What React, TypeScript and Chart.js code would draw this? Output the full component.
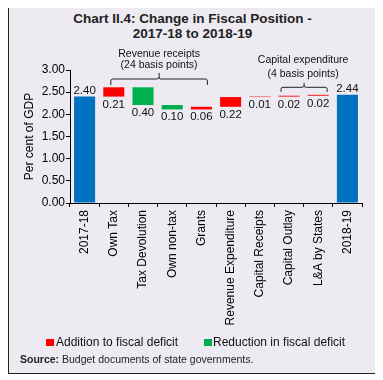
import React, { useEffect, useRef } from "react";
import { Chart, registerables } from "chart.js";

Chart.register(...registerables);

const categories = [
  "2017-18",
  "Own Tax",
  "Tax Devolution",
  "Own non-tax",
  "Grants",
  "Revenue Expenditure",
  "Capital Receipts",
  "Capital Outlay",
  "L&A by States",
  "2018-19",
];
const changes = [2.4, 0.21, -0.4, -0.1, 0.06, 0.22, 0.01, 0.02, 0.02, 2.44];
const isTotal = [true, false, false, false, false, false, false, false, false, true];
const yTickValues = [0, 0.5, 1, 1.5, 2, 2.5, 3];
const legendLabels = ["Addition to fiscal deficit", "Reduction in fiscal deficit"];
const bracketGroups = [
  { lines: ["Revenue receipts", "(24 basis points)"], from: 1, to: 4 },
  { lines: ["Capital expenditure", "(4 basis points)"], from: 7, to: 8 },
];
const titleLines = ["Chart II.4: Change in Fiscal Position -", "2017-18 to 2018-19"];
const sourceLabel = "Source:";
const sourceText = " Budget documents of state governments.";

const BLUE = "#0070c0";
const RED = "#ff0000";
const GREEN = "#00b050";
const BG = "#edeaf1";
const FONT = '"Liberation Sans", Arial, Helvetica, sans-serif';

// pixel layout for bracket annotations (canvas coords)
const bracketLayout = [
  { y: 73, depth: 6, notch: 6, dl: -3, dr: 6, t1: 50.7, t2: 61.7, tx: 0 },
  { y: 81.3, depth: 4.5, notch: 4.5, dl: -8, dr: 9, t1: 57.3, t2: 70.7, tx: -1 },
];

function buildRanges(): [number, number][] {
  const out: [number, number][] = [];
  let running = 0;
  for (let i = 0; i < changes.length; i++) {
    if (isTotal[i]) {
      running = changes[i];
      out.push([0, changes[i]]);
    } else {
      const start = running;
      running = Math.round((running + changes[i]) * 100) / 100;
      out.push([start, running]);
    }
  }
  return out;
}

const annotPlugin = {
  id: "annot",
  afterDatasetsDraw(chart: any) {
    const ctx = chart.ctx;
    const meta = chart.getDatasetMeta(0);
    ctx.save();
    ctx.fillStyle = "#111";
    ctx.font = `11.5px ${FONT}`;
    ctx.textAlign = "center";
    meta.data.forEach((el: any, i: number) => {
      const p = el.getProps(["x", "y", "base"], true);
      const top = Math.min(p.y, p.base);
      const bottom = Math.max(p.y, p.base);
      const label = Math.abs(changes[i]).toFixed(2);
      if (isTotal[i]) {
        ctx.textBaseline = "alphabetic";
        ctx.fillText(label, p.x, top - 3);
      } else {
        ctx.textBaseline = "top";
        ctx.fillText(label, p.x, bottom + 2);
      }
    });

    const xs = chart.scales.x;
    ctx.strokeStyle = "#222";
    ctx.lineWidth = 1;
    bracketGroups.forEach((g, k) => {
      const L = bracketLayout[k];
      const x1 = xs.getPixelForValue(g.from) + L.dl;
      const x2 = xs.getPixelForValue(g.to) + L.dr;
      const mid = (x1 + x2) / 2;
      const y = L.y;
      const r = 2;
      ctx.beginPath();
      ctx.moveTo(x1, y + L.depth);
      ctx.lineTo(x1, y + r);
      ctx.quadraticCurveTo(x1, y, x1 + r, y);
      ctx.lineTo(mid - r, y);
      ctx.quadraticCurveTo(mid, y, mid, y - r);
      ctx.lineTo(mid, y - L.notch);
      ctx.moveTo(mid, y - r);
      ctx.quadraticCurveTo(mid, y, mid + r, y);
      ctx.lineTo(x2 - r, y);
      ctx.quadraticCurveTo(x2, y, x2, y + r);
      ctx.lineTo(x2, y + L.depth);
      ctx.stroke();
      ctx.font = `10.5px ${FONT}`;
      ctx.textBaseline = "alphabetic";
      ctx.fillText(g.lines[0], mid + L.tx, L.t1);
      ctx.fillText(g.lines[1], mid + L.tx, L.t2);
    });
    ctx.restore();
  },
};

export default function App() {
  const ref = useRef<HTMLCanvasElement | null>(null);

  useEffect(() => {
    if (!ref.current) return;
    const ranges = buildRanges();
    const colors = changes.map((c, i) => (isTotal[i] ? BLUE : c >= 0 ? RED : GREEN));
    const chart = new Chart(ref.current, {
      type: "bar",
      data: {
        labels: categories,
        datasets: [
          {
            data: ranges as any,
            backgroundColor: colors,
            borderWidth: 0,
            borderSkipped: false,
          },
        ],
      },
      options: {
        animation: false,
        responsive: false,
        maintainAspectRatio: false,
        layout: { padding: { left: 13, right: 14, top: 64, bottom: 0 } },
        plugins: {
          legend: { display: false },
          title: { display: false },
          tooltip: { enabled: false },
        },
        scales: {
          x: {
            offset: true,
            grid: {
              offset: true,
              drawOnChartArea: false,
              drawTicks: true,
              tickLength: 4,
              color: "#000",
            },
            border: { display: true, color: "#000", width: 1 },
            ticks: {
              minRotation: 90,
              maxRotation: 90,
              autoSkip: false,
              padding: 3,
              color: "#000",
              font: { family: FONT, size: 12 },
            },
            afterFit(scale: any) {
              scale.height = 170;
            },
          },
          y: {
            min: 0,
            max: 3,
            afterBuildTicks(scale: any) {
              scale.ticks = yTickValues.map((v) => ({ value: v }));
            },
            grid: {
              drawOnChartArea: false,
              drawTicks: true,
              tickLength: 4,
              color: "#000",
            },
            border: { display: true, color: "#000", width: 1 },
            ticks: {
              padding: 1,
              color: "#000",
              font: { family: FONT, size: 12 },
              callback: (v: any) => Number(v).toFixed(2),
            },
            title: {
              display: true,
              text: "Per cent of GDP",
              color: "#000",
              font: { family: FONT, size: 12 },
              padding: { top: 0, bottom: 0 },
            },
            afterFit(scale: any) {
              scale.width = 48;
            },
          },
        },
      },
      plugins: [annotPlugin],
    });
    return () => chart.destroy();
  }, []);

  return (
    <div
      style={{
        position: "relative",
        marginTop: -3,
        width: 369,
        height: 369,
        boxSizing: "border-box",
        border: "1px solid #222",
        background: BG,
        fontFamily: FONT,
        color: "#222",
      }}
    >
      <div
        style={{
          position: "absolute",
          top: 5,
          left: 0,
          width: 367,
          textAlign: "center",
          fontWeight: "bold",
          fontSize: 13.5,
          lineHeight: "15px",
        }}
      >
        {titleLines.map((t, i) => (
          <div key={i}>{t}</div>
        ))}
      </div>
      <canvas
        ref={ref}
        width={367}
        height={367}
        style={{ position: "absolute", left: 0, top: 0, width: 367, height: 367 }}
      />
      <div
        style={{
          position: "absolute",
          top: 329,
          left: 0,
          width: 367,
          fontSize: 12,
          lineHeight: "14px",
          color: "#111",
          whiteSpace: "nowrap",
        }}
      >
        <span style={{ position: "absolute", left: 37, top: 4, width: 8, height: 7, background: RED }} />
        <span style={{ position: "absolute", left: 47, top: 0 }}>{legendLabels[0]}</span>
        <span style={{ position: "absolute", left: 195, top: 4, width: 8, height: 7, background: GREEN }} />
        <span style={{ position: "absolute", left: 204, top: 0 }}>{legendLabels[1]}</span>
      </div>
      <div
        style={{
          position: "absolute",
          top: 347,
          left: 11,
          fontSize: 10.5,
          lineHeight: "12px",
          whiteSpace: "nowrap",
          color: "#222",
        }}
      >
        <b>{sourceLabel}</b>
        {sourceText}
      </div>
    </div>
  );
}
